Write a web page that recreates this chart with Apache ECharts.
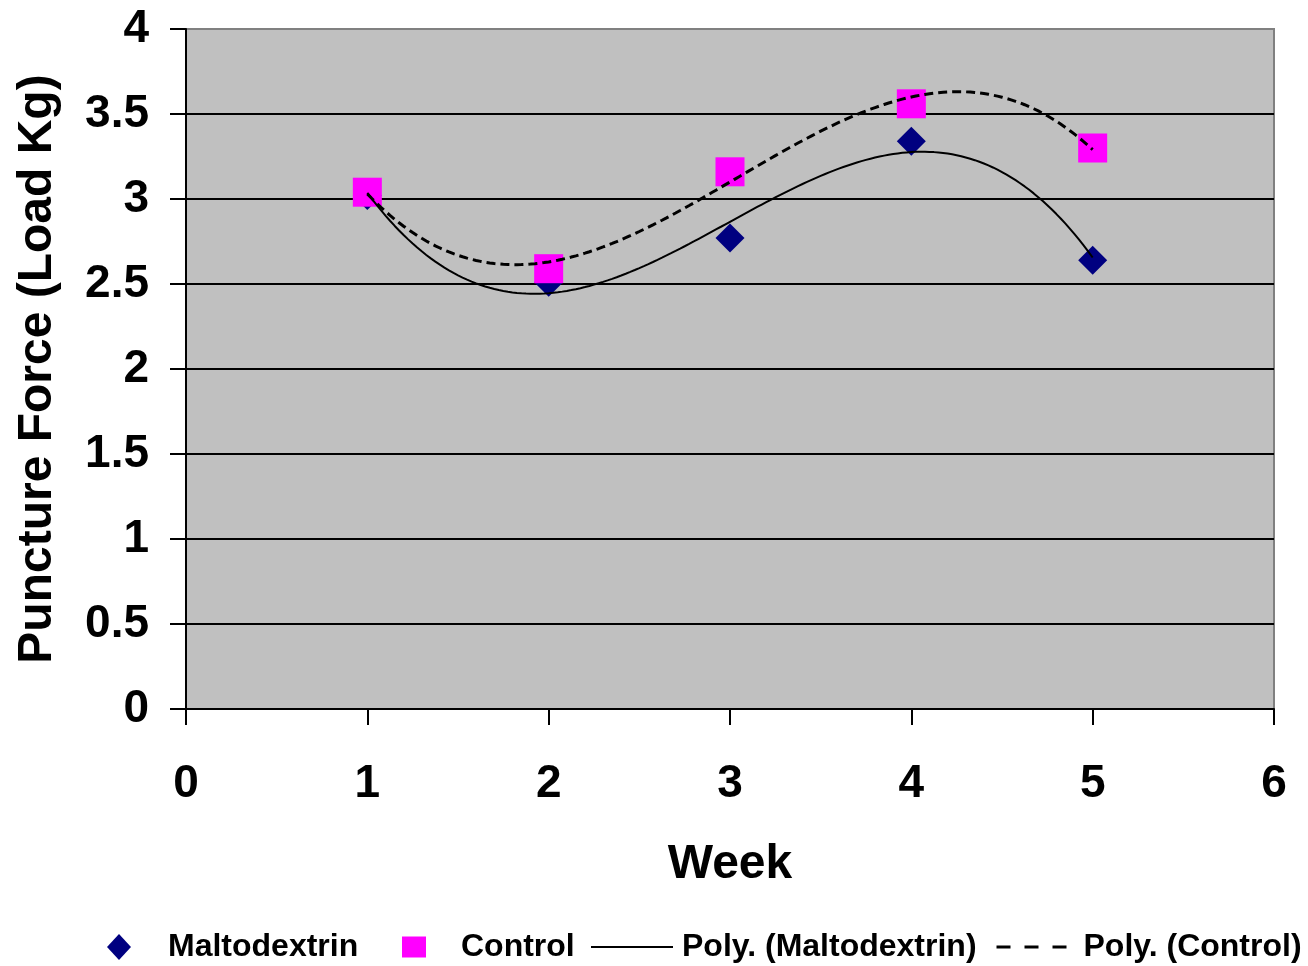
<!DOCTYPE html>
<html><head><meta charset="utf-8">
<script src="https://cdn.jsdelivr.net/npm/echarts@6/dist/echarts.min.js"></script>
<style>html,body{margin:0;padding:0;background:#fff}#c{width:1308px;height:966px}</style>
</head><body><div id="c"></div>
<script>
// ---- data ----
const weeks = [1, 2, 3, 4, 5];
const maltodextrin = [3.02, 2.51, 2.77, 3.34, 2.64];
const control = [3.04, 2.59, 3.16, 3.56, 3.30];
const seriesNames = ['Maltodextrin', 'Control', 'Poly. (Maltodextrin)', 'Poly. (Control)'];
const xTitle = 'Week';
const yTitle = 'Puncture Force (Load Kg)';
const trendOrder = 3; // polynomial (cubic) trend line, as in the source chart

// least-squares polynomial fit of the data (the trend line the source chart shows)
function polyFit(xs, ys, order) {
  const n = order + 1;
  const A = [], b = [];
  for (let i = 0; i < n; i++) {
    A.push(new Array(n).fill(0)); b.push(0);
    for (let k = 0; k < xs.length; k++) {
      for (let j = 0; j < n; j++) A[i][j] += Math.pow(xs[k], i + j);
      b[i] += ys[k] * Math.pow(xs[k], i);
    }
  }
  for (let c = 0; c < n; c++) {
    let p = c;
    for (let r = c + 1; r < n; r++) if (Math.abs(A[r][c]) > Math.abs(A[p][c])) p = r;
    [A[c], A[p]] = [A[p], A[c]]; [b[c], b[p]] = [b[p], b[c]];
    for (let r = c + 1; r < n; r++) {
      const f = A[r][c] / A[c][c];
      for (let j = c; j < n; j++) A[r][j] -= f * A[c][j];
      b[r] -= f * b[c];
    }
  }
  const coef = new Array(n).fill(0);
  for (let i = n - 1; i >= 0; i--) {
    let s = b[i];
    for (let j = i + 1; j < n; j++) s -= A[i][j] * coef[j];
    coef[i] = s / A[i][i];
  }
  return coef;
}
function trendLine(xs, ys) {
  const coef = polyFit(xs, ys, trendOrder);
  const x0 = Math.min(...xs), x1 = Math.max(...xs);
  const pts = [];
  const steps = 160;
  for (let i = 0; i <= steps; i++) {
    const x = x0 + (x1 - x0) * i / steps;
    let y = 0;
    for (let j = 0; j < coef.length; j++) y += coef[j] * Math.pow(x, j);
    pts.push([x, y]);
  }
  return pts;
}

const FONT = "'Liberation Sans', Arial, sans-serif";
const chart = echarts.init(document.getElementById('c'), null, {renderer: 'canvas'});

function legendFor(item, left, w, h, gap, top, extra) {
  return Object.assign({
    data: [item], left: left, top: top, orient: 'horizontal',
    itemWidth: w, itemHeight: h, selectedMode: false, padding: 0,
    textStyle: {fontFamily: FONT, fontWeight: 'bold', fontSize: 32, color: '#000', padding: [0, 0, 0, gap]}
  }, extra || {});
}

chart.setOption({
  animation: false,
  backgroundColor: '#fff',
  grid: {left: 186, right: 34, top: 29, bottom: 257, show: true,
         backgroundColor: '#C0C0C0', borderColor: '#808080', borderWidth: 2},
  xAxis: {
    type: 'value', min: 0, max: 6, interval: 1,
    name: xTitle, nameLocation: 'middle', nameGap: 132,
    nameTextStyle: {fontFamily: FONT, fontWeight: 'bold', fontSize: 48, color: '#000'},
    axisLine: {show: true, lineStyle: {color: '#000', width: 2}},
    axisTick: {show: true, inside: false, length: 16, lineStyle: {color: '#000', width: 2}},
    axisLabel: {fontFamily: FONT, fontWeight: 'bold', fontSize: 46, color: '#000', margin: 52},
    splitLine: {show: false}
  },
  yAxis: {
    type: 'value', min: 0, max: 4, interval: 0.5,
    name: yTitle, nameLocation: 'middle', nameGap: 124, nameRotate: 90,
    nameTextStyle: {fontFamily: FONT, fontWeight: 'bold', fontSize: 48, color: '#000'},
    axisLine: {show: true, lineStyle: {color: '#000', width: 2}},
    axisTick: {show: true, inside: false, length: 16, lineStyle: {color: '#000', width: 2}},
    axisLabel: {fontFamily: FONT, fontWeight: 'bold', fontSize: 46, color: '#000', margin: 37,
                padding: [5, 0, 0, 0]},
    splitLine: {show: true, showMaxLine: false, lineStyle: {color: '#000', width: 2}}
  },
  legend: [
    legendFor(seriesNames[0], 107, 24, 26, 32, 931),
    legendFor(seriesNames[1], 402, 24, 21, 30, 931),
    legendFor(seriesNames[2], 590, 82, 14, 4, 931,
              {itemStyle: {opacity: 0}, lineStyle: {width: 2, color: '#000', type: 'solid'}}),
    legendFor(seriesNames[3], 995, 71, 14, 11, 931,
              {itemStyle: {opacity: 0}, lineStyle: {width: 3, color: '#000', type: [14, 14]}})
  ],
  series: [
    {name: seriesNames[0], type: 'scatter', symbol: 'diamond', symbolSize: 29,
     itemStyle: {color: '#000080', opacity: 1}, data: weeks.map((w, i) => [w, maltodextrin[i]])},
    {name: seriesNames[1], type: 'scatter', symbol: 'rect', symbolSize: 29,
     itemStyle: {color: '#FF00FF', opacity: 1}, data: weeks.map((w, i) => [w, control[i]])},
    {name: seriesNames[2], type: 'line', symbol: 'none', smooth: false,
     lineStyle: {color: '#000', width: 2, type: 'solid'}, itemStyle: {color: '#000'},
     data: trendLine(weeks, maltodextrin)},
    {name: seriesNames[3], type: 'line', symbol: 'none', smooth: false,
     lineStyle: {color: '#000', width: 3, type: [9, 5]}, itemStyle: {color: '#000'},
     data: trendLine(weeks, control)}
  ]
});
</script></body></html>
